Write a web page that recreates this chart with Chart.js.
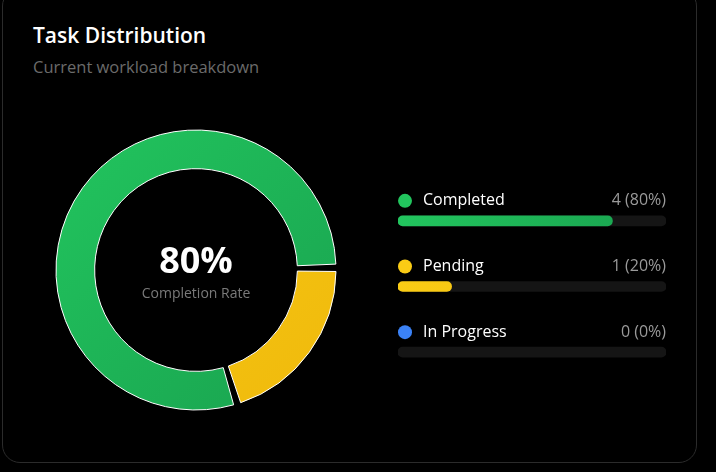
<!DOCTYPE html>
<html>
<head>
<meta charset="utf-8">
<script src="https://cdn.jsdelivr.net/npm/chart.js@4.4.1/dist/chart.umd.min.js"></script>
<style>
  html, body {
    margin: 0;
    padding: 0;
    background: #000;
    width: 716px;
    height: 472px;
    overflow: hidden;
    font-family: 'Open Sans', 'Noto Sans', sans-serif;
  }
  .card {
    position: absolute;
    left: 2px;
    top: -12px;
    width: 693px;
    height: 473px;
    border: 1px solid #2b2b2b;
    border-radius: 18px;
    background: #000;
  }
  .title {
    position: absolute;
    left: 33px;
    top: 21px;
    color: #fff;
    font-size: 21px;
    font-weight: 600;
  }
  .subtitle {
    position: absolute;
    left: 33px;
    top: 55px;
    color: #6b6b6b;
    font-size: 16.5px;
  }
  #donut {
    position: absolute;
    left: 51px;
    top: 125px;
  }
  #bars {
    position: absolute;
    left: 390px;
    top: 150px;
  }
</style>
</head>
<body>
<div class="card"></div>
<div class="title">Task Distribution</div>
<div class="subtitle">Current workload breakdown</div>
<div id="donut" style="width:290px;height:290px"><canvas id="donut-chart"></canvas></div>
<div id="bars" style="width:290px;height:240px"><canvas id="bar-chart"></canvas></div>

<script>
// Data
const categories = ['Completed', 'Pending', 'In Progress'];
const taskCounts = [4, 1, 0];
const colorsLight = ['#22c55e', '#facc15', '#3b82f6'];
const colorsDark = ['#19a24f', '#efb90c', '#2563eb'];

const total = taskCounts.reduce((a, b) => a + b, 0);
const percents = taskCounts.map(v => total ? Math.round(v / total * 100) : 0);

// Diagonal gradient for each slice
function sliceGradient(context) {
  const chart = context.chart;
  const area = chart.chartArea;
  if (!area) return colorsLight[context.dataIndex];
  const g = chart.ctx.createLinearGradient(area.left, area.top, area.right, area.bottom);
  g.addColorStop(0, colorsLight[context.dataIndex]);
  g.addColorStop(1, colorsDark[context.dataIndex]);
  return g;
}

// Center text for doughnut
const centerText = {
  id: 'centerText',
  afterDraw(chart) {
    const ctx = chart.ctx;
    const meta = chart.getDatasetMeta(0);
    const x = meta.data[0].x;
    const y = meta.data[0].y;
    ctx.save();
    ctx.textAlign = 'center';
    ctx.textBaseline = 'middle';
    ctx.fillStyle = '#ffffff';
    ctx.font = 'bold 36px "Open Sans", sans-serif';
    ctx.fillText(percents[0] + '%', x, y - 7);
    ctx.fillStyle = '#7a7a7a';
    ctx.font = '14px "Open Sans", sans-serif';
    ctx.fillText('Completion Rate', x, y + 24);
    ctx.restore();
  }
};

new Chart(document.getElementById('donut-chart'), {
  type: 'doughnut',
  data: {
    labels: categories,
    datasets: [{
      data: taskCounts,
      backgroundColor: sliceGradient,
      borderColor: '#ffffff',
      borderWidth: 1,
      spacing: 4,
      hoverOffset: 0
    }]
  },
  options: {
    responsive: true,
    maintainAspectRatio: false,
    animation: false,
    rotation: 162,
    radius: 138,
    cutout: '72%',
    plugins: {
      legend: { display: false },
      tooltip: { enabled: false }
    }
  },
  plugins: [centerText]
});

// Labels above each progress bar
const rowLabels = {
  id: 'rowLabels',
  afterDatasetsDraw(chart) {
    const ctx = chart.ctx;
    const yScale = chart.scales.y;
    const area = chart.chartArea;
    ctx.save();
    ctx.textBaseline = 'middle';
    categories.forEach((name, i) => {
      const y = yScale.getPixelForValue(i) - 20;
      ctx.fillStyle = colorsLight[i];
      ctx.beginPath();
      ctx.arc(area.left + 7, y, 7, 0, Math.PI * 2);
      ctx.fill();
      ctx.font = '16px "Open Sans", sans-serif';
      ctx.textAlign = 'left';
      ctx.fillStyle = '#ffffff';
      ctx.fillText(name, area.left + 25, y);
      ctx.textAlign = 'right';
      ctx.fillStyle = '#9a9a9a';
      ctx.fillText(taskCounts[i] + ' (' + percents[i] + '%)', area.right, y);
    });
    ctx.restore();
  }
};

function barGradient(context) {
  const chart = context.chart;
  const area = chart.chartArea;
  if (!percents[context.dataIndex]) return 'rgba(0,0,0,0)';
  if (!area) return colorsLight[context.dataIndex];
  const g = chart.ctx.createLinearGradient(area.left, 0, area.right, 0);
  g.addColorStop(0, colorsLight[context.dataIndex]);
  g.addColorStop(1, colorsDark[context.dataIndex]);
  return g;
}

new Chart(document.getElementById('bar-chart'), {
  type: 'bar',
  data: {
    labels: categories,
    datasets: [
      {
        data: percents,
        backgroundColor: barGradient,
        barThickness: 10,
        borderRadius: 5,
        borderSkipped: false,
        order: 1
      },
      {
        data: categories.map(() => 100),
        backgroundColor: '#151515',
        barThickness: 10,
        borderRadius: 5,
        borderSkipped: false,
        order: 2
      }
    ]
  },
  options: {
    indexAxis: 'y',
    responsive: true,
    maintainAspectRatio: false,
    animation: false,
    layout: { padding: { left: 8, right: 14, top: 38, bottom: 5 } },
    datasets: { bar: { grouped: false } },
    scales: {
      x: { min: 0, max: 100, display: false },
      y: { display: false }
    },
    plugins: {
      legend: { display: false },
      tooltip: { enabled: false }
    }
  },
  plugins: [rowLabels]
});
</script>
</body>
</html>
